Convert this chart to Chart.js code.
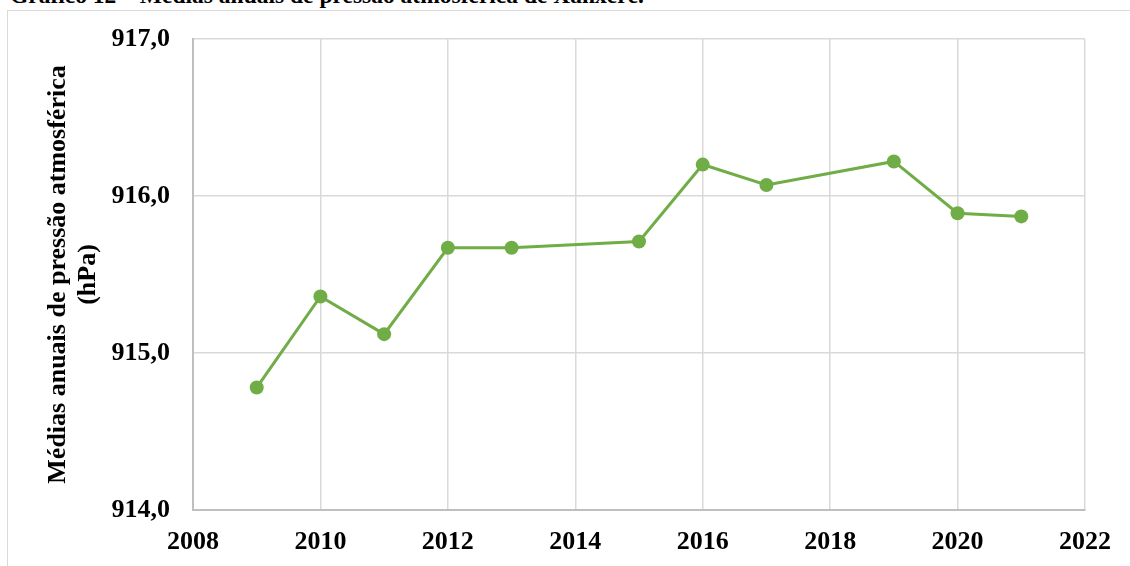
<!DOCTYPE html>
<html>
<head>
<meta charset="utf-8">
<script src="https://cdn.jsdelivr.net/npm/chart.js@4.4.1/dist/chart.umd.min.js"></script>
<style>
  html, body { margin: 0; padding: 0; background: #fff; overflow: hidden; }
  #wrap { position: relative; width: 1130px; height: 566px; overflow: hidden; }
  #frame { position: absolute; left: 7px; top: 10px; width: 1200px; height: 700px; border: 1.5px solid #d9d9d9; box-sizing: border-box; }
  #title { position: absolute; left: 10px; top: -16px; font-family: "Liberation Serif", "Times New Roman", serif; font-weight: bold; font-size: 23.5px; line-height: 23.5px; white-space: nowrap; color: #000; }
  #c { position: absolute; left: 0; top: 0; }
</style>
</head>
<body>
<div id="wrap">
  <div id="frame"></div>
  <div id="title">Gráfico 12 – Médias anuais de pressão atmosférica de Xanxerê.</div>
  <canvas id="c" width="1130" height="566"></canvas>
</div>
<script>
const years = [2009, 2010, 2011, 2012, 2013, 2015, 2016, 2017, 2019, 2020, 2021];
const pressure = [914.78, 915.36, 915.12, 915.67, 915.67, 915.71, 916.20, 916.07, 916.22, 915.89, 915.87];
const yTitle = ["Médias anuais de pressão atmosférica", "(hPa)"];
const xRange = [2008, 2022];
const yRange = [914, 917];

const FONT = '"Liberation Serif", "Times New Roman", serif';

new Chart(document.getElementById('c'), {
  type: 'scatter',
  data: {
    datasets: [{
      data: years.map((y, i) => ({ x: y, y: pressure[i] })),
      showLine: true,
      borderColor: '#70AD47',
      backgroundColor: '#70AD47',
      borderWidth: 3,
      pointRadius: 7,
      pointHoverRadius: 7,
      pointBorderWidth: 0,
      tension: 0
    }]
  },
  options: {
    responsive: false,
    animation: false,
    events: [],
    layout: { padding: { left: 0, right: 45, top: 39, bottom: 0 } },
    plugins: { legend: { display: false }, tooltip: { enabled: false } },
    scales: {
      x: {
        type: 'linear',
        min: xRange[0], max: xRange[1],
        ticks: { stepSize: 2, color: '#000', padding: 17, maxRotation: 0,
                 font: { family: FONT, size: 26, weight: 'bold' },
                 callback: v => String(v) },
        grid: { color: '#d9d9d9', lineWidth: 1.5, drawTicks: false },
        border: { color: '#bfbfbf', width: 2 },
        afterFit: s => { s.height = 56; }
      },
      y: {
        min: yRange[0], max: yRange[1],
        ticks: { stepSize: 1, color: '#000', padding: 23,
                 font: { family: FONT, size: 26, weight: 'bold' },
                 callback: v => v.toFixed(1).replace('.', ',') },
        grid: { color: '#d9d9d9', lineWidth: 1.5, drawTicks: false },
        border: { color: '#bfbfbf', width: 2 },
        title: { display: true, text: yTitle, color: '#000',
                 font: { family: FONT, size: 26, weight: 'bold', lineHeight: 1.15 },
                 padding: { top: 43, bottom: 0 } },
        afterFit: s => { s.width = 193; }
      }
    }
  }
});
</script>
</body>
</html>
